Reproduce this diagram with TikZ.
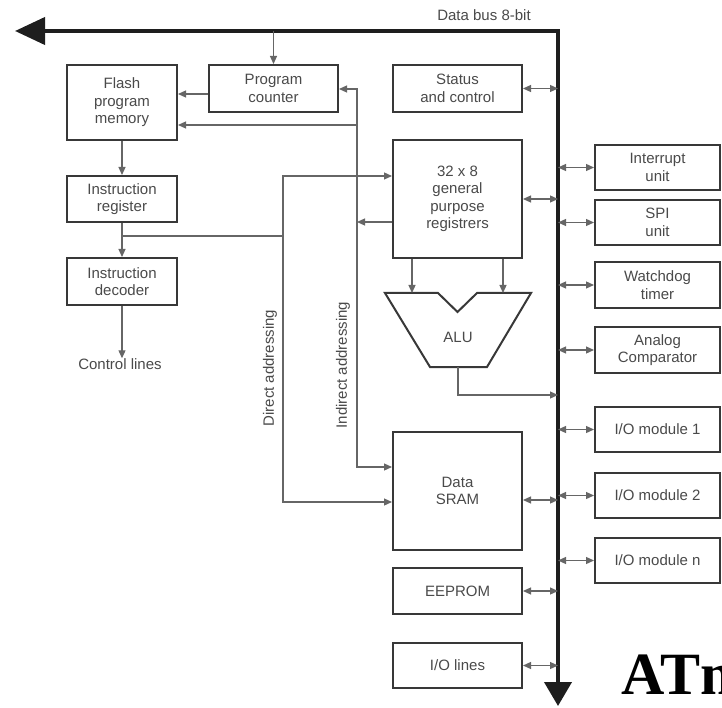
\documentclass[tikz,border=0pt]{standalone}
\usepackage{fontspec}
\setmainfont{Liberation Sans}
\newfontfamily\titlefont{Liberation Serif}
\usetikzlibrary{arrows.meta}
\definecolor{ink}{HTML}{383838}
\definecolor{wirec}{HTML}{666666}
\definecolor{txt}{HTML}{4A4A4A}
\definecolor{busc}{HTML}{1E1E1E}
\begin{document}
\begin{tikzpicture}[x=1pt,y=-1pt,
  blk/.style={draw=ink, line width=2pt, text=txt, align=center, inner sep=0pt,
    font=\fontsize{15}{17.5}\selectfont},
  lbl/.style={text=txt, inner sep=0pt, font=\fontsize{15}{17.5}\selectfont},
  wire/.style={draw=wirec, line width=1.2pt},
  tip/.style={-{Triangle[length=8pt,width=7pt]}},
  dtip/.style={{Triangle[length=8pt,width=7pt]}-{Triangle[length=8pt,width=7pt]}},
  busline/.style={draw=busc, line width=4pt, line join=miter},
]
\useasboundingbox (0,0) rectangle (722,708);
\fill[white] (0,0) rectangle (722,708);
\clip (0,0) rectangle (722,708);

% ---- bus ----
\coordinate (busW) at (15,31);
\coordinate (busC) at (558,31);
\coordinate (busS) at (558,706);
\draw[busline, {Triangle[length=30pt,width=27pt]}-{Triangle[length=24pt,width=27pt]}]
  (busW) -- (busC) -- (busS);
\node[lbl] (buslbl) at (484,15) {Data bus 8-bit};

% ---- left column ----
\node[blk, minimum width=110pt, minimum height=75pt] (flash) at (122,102.5) {Flash\\program\\memory};
\node[blk, minimum width=129pt, minimum height=47pt] (pc) at (273.5,88.5) {Program\\counter};
\node[blk, minimum width=110pt, minimum height=46pt] (ir) at (122,199) {Instruction\\register};
\node[blk, minimum width=110pt, minimum height=47pt] (dec) at (122,281.5) {Instruction\\decoder};
\node[lbl] (ctl) at (120,364) {Control lines};

% ---- centre column ----
\node[blk, minimum width=129pt, minimum height=47pt] (status) at (457.5,88.5) {Status\\and control};
\node[blk, minimum width=129pt, minimum height=118pt] (regs) at (457.5,199) {32 x 8\\general\\purpose\\registrers};
\node[blk, minimum width=129pt, minimum height=118pt] (sram) at (457.5,491) {Data\\SRAM};
\node[blk, minimum width=129pt, minimum height=46pt] (eeprom) at (457.5,591) {EEPROM};
\node[blk, minimum width=129pt, minimum height=45pt] (iolines) at (457.5,665.5) {I/O lines};

% ALU
\draw[draw=ink, line width=2pt, line join=miter]
  (385,293) -- (438,293) -- (457.5,312) -- (477,293) -- (531,293) -- (487,367) -- (430,367) -- cycle;
\node[lbl] (alu) at (458,337) {ALU};
\coordinate (aluL) at (412,293);
\coordinate (aluR) at (503,293);
\coordinate (aluOut) at (458,367);

% ---- right column ----
\node[blk, minimum width=125pt, minimum height=45pt] (intr) at (657.5,167.5) {Interrupt\\unit};
\node[blk, minimum width=125pt, minimum height=45pt] (spi) at (657.5,222.5) {SPI\\unit};
\node[blk, minimum width=125pt, minimum height=46pt] (wdt) at (657.5,285) {Watchdog\\timer};
\node[blk, minimum width=125pt, minimum height=46pt] (acmp) at (657.5,350) {Analog\\Comparator};
\node[blk, minimum width=125pt, minimum height=45pt] (iom1) at (657.5,429.5) {I/O module 1};
\node[blk, minimum width=125pt, minimum height=45pt] (iom2) at (657.5,495.5) {I/O module 2};
\node[blk, minimum width=125pt, minimum height=45pt] (iomn) at (657.5,560.5) {I/O module n};

% ---- program flow ----
\draw[wire, tip] (pc.north |- busW) -- (pc.north);
\draw[wire, tip] (pc.west |- 0,94) -- (flash.east |- 0,94);
\draw[wire, tip] (flash.south) -- (ir.north);
\draw[wire, tip] (ir.south) -- (dec.north);
\draw[wire, tip] (dec.south) -- (dec.south |- ctl.north);

% direct addressing
\coordinate (irJ) at (122,236);
\coordinate (daTop) at (283,176);
\coordinate (daMid) at (283,236);
\coordinate (daBot) at (283,502);
\draw[wire] (irJ) -- (daMid);
\draw[wire, tip] (daMid) -- (daTop) -- (regs.west |- daTop);
\draw[wire, tip] (daMid) -- (daBot) -- (sram.west |- daBot);
\node[lbl, rotate=90] (dalbl) at (270,368) {Direct addressing};

% indirect addressing
\coordinate (iaJ) at (357,222);
\coordinate (iaTop) at (357,89);
\coordinate (iaFl) at (357,125);
\coordinate (iaBot) at (357,467);
\draw[wire, tip] (regs.west |- iaJ) -- (iaJ);
\draw[wire, tip] (iaJ) -- (iaTop) -- (pc.east |- iaTop);
\draw[wire, tip] (iaFl) -- (flash.east |- iaFl);
\draw[wire, tip] (iaJ) -- (iaBot) -- (sram.west |- iaBot);
\node[lbl, rotate=90] (ialbl) at (343,365) {Indirect addressing};

% registers to ALU, ALU to bus
\draw[wire, tip] (regs.south -| aluL) -- (aluL);
\draw[wire, tip] (regs.south -| aluR) -- (aluR);
\draw[wire, tip] (aluOut) -- (458,395) -- (busC |- 0,395);

% ---- bus taps ----
\draw[wire, dtip] (status.east) -- (status.east -| busC);
\draw[wire, dtip] (regs.east) -- (regs.east -| busC);
\draw[wire, dtip] (sram.east |- 0,500) -- (busC |- 0,500);
\draw[wire, dtip] (eeprom.east) -- (eeprom.east -| busC);
\draw[wire, dtip] (iolines.east) -- (iolines.east -| busC);
\foreach \n in {intr,spi,wdt,acmp,iom1,iom2,iomn}
  \draw[wire, dtip] (\n.west -| busC) -- (\n.west);

% ---- title ----
\node[anchor=base west, inner sep=0pt, font=\titlefont\bfseries\fontsize{60}{60}\selectfont]
  (title) at (621,694) {ATm};
\end{tikzpicture}
\end{document}
